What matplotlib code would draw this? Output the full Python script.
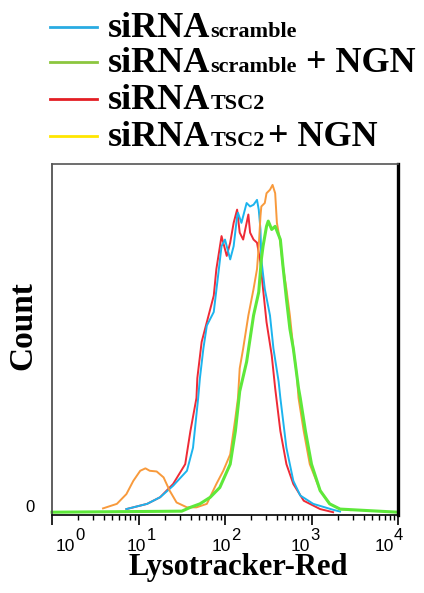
import matplotlib.pyplot as plt
import numpy as np

# histogram outlines: x as log10(intensity), y as count
blue_log = [0.86, 0.94, 1.10, 1.25, 1.40, 1.56, 1.63, 1.69, 1.71, 1.75, 1.79, 1.87, 1.92,
            1.96, 2.00, 2.06, 2.10, 2.14, 2.15, 2.19, 2.23, 2.25, 2.29, 2.33, 2.37, 2.39,
            2.41, 2.42, 2.46, 2.52, 2.56, 2.62, 2.64, 2.71, 2.79, 2.87, 3.02, 3.25, 3.33]
blue_count = [0.9, 1.4, 2.4, 4.3, 7.6, 11.9, 18.5, 32.8, 38.5, 47.0, 53.6, 57.5, 67.9,
              76.4, 78.3, 72.6, 76.4, 85.0, 86.0, 83.1, 86.9, 88.8, 87.8, 88.3, 89.7, 86.9,
              81.2, 72.6, 64.1, 56.5, 47.0, 37.5, 32.8, 18.5, 9.0, 4.8, 2.4, 0.7, 0.2]

red_log = [0.86, 1.10, 1.25, 1.40, 1.54, 1.60, 1.67, 1.68, 1.73, 1.79, 1.87, 1.90, 1.96,
           2.02, 2.06, 2.10, 2.14, 2.17, 2.21, 2.25, 2.27, 2.29, 2.33, 2.37, 2.41, 2.44,
           2.48, 2.54, 2.58, 2.64, 2.71, 2.79, 2.91, 3.10, 3.25]
red_count = [0.9, 2.4, 4.3, 8.1, 13.8, 23.3, 32.8, 38.5, 48.9, 54.6, 62.2, 69.8, 79.3,
             73.6, 77.4, 83.1, 86.9, 80.3, 78.3, 83.1, 85.5, 80.3, 78.3, 77.4, 71.7, 64.1,
             54.6, 45.1, 35.6, 23.3, 13.8, 8.1, 3.3, 0.9, 0.0]

orange_log = [0.59, 0.75, 0.86, 0.94, 1.02, 1.08, 1.13, 1.21, 1.29, 1.36, 1.44, 1.56,
              1.67, 1.79, 1.90, 1.98, 2.06, 2.12, 2.15, 2.17, 2.21, 2.27, 2.33, 2.37,
              2.39, 2.41, 2.42, 2.46, 2.48, 2.52, 2.55, 2.58, 2.60, 2.64, 2.67, 2.71,
              2.75, 2.79, 2.83, 2.85, 2.91, 2.98, 3.10, 3.21, 3.33, 3.45]
orange_count = [1.1, 2.4, 5.2, 9.0, 11.9, 12.6, 11.9, 11.7, 10.0, 6.2, 2.8, 1.4,
                1.4, 2.4, 8.1, 11.9, 16.6, 27.1, 32.8, 41.3, 47.0, 56.5, 64.1, 69.8,
                76.4, 85.0, 87.8, 88.8, 91.6, 92.6, 94.0, 91.6, 83.1, 77.4, 70.7, 64.1,
                56.5, 47.0, 39.4, 32.8, 23.3, 13.8, 6.2, 2.4, 0.9, 0.6]

green_log = [0.0, 1.50, 1.60, 1.71, 1.83, 1.94, 2.06, 2.12, 2.17, 2.25, 2.33, 2.39, 2.42,
             2.44, 2.48, 2.50, 2.54, 2.58, 2.64, 2.67, 2.71, 2.75, 2.79, 2.85, 2.87, 2.93,
             3.00, 3.10, 3.21, 3.33, 4.0]
green_count = [0.0, 0.3, 1.4, 2.4, 4.3, 7.1, 13.8, 23.3, 34.7, 43.2, 56.5, 63.2, 72.6,
               76.4, 82.1, 83.6, 81.2, 82.1, 78.3, 70.7, 61.3, 52.7, 47.0, 35.6, 32.8, 23.3,
               13.8, 6.2, 2.4, 0.9, 0.0]

decades = [0, 1, 2, 3, 4]

legend_rows = [
    ("siRNA", "scramble", ""),
    ("siRNA", "scramble", " + NGN"),
    ("siRNA", "TSC2", ""),
    ("siRNA", "TSC2", "+ NGN"),
]
legend_colors = ["#29abe2", "#8cc63f", "#e31e24", "#ffe600"]

W, H = 424, 593
fig = plt.figure(figsize=(W / 100, H / 100), dpi=100)
ax = fig.add_axes([52 / W, 1 - 515 / H, (398 - 52) / W, (515 - 164) / H])

ax.plot(10 ** np.array(red_log), red_count, color="#ee2a36", lw=1.4)
ax.plot(10 ** np.array(blue_log), blue_count, color="#1cb4ee", lw=1.4)
ax.plot(10 ** np.array(orange_log), orange_count, color="#f89a3c", lw=1.4)
ax.plot(10 ** np.array(green_log), green_count, color="#5ee83a", lw=2.2, clip_on=False)

ax.set_xscale("log")
ax.set_xlim(1, 1e4)
ax.set_ylim(-0.8, 100)
ax.set_yticks([])
ax.tick_params(axis="x", which="major", direction="out", length=7, width=1.2,
               labelbottom=False)
ax.tick_params(axis="x", which="minor", direction="out", length=3.5, width=1.0)

ax.spines["left"].set_color("#444444")
ax.spines["left"].set_linewidth(1.2)
ax.spines["top"].set_color("#555555")
ax.spines["top"].set_linewidth(1.2)
ax.spines["right"].set_color("black")
ax.spines["right"].set_linewidth(2.4)
ax.spines["bottom"].set_linewidth(1.2)

# decade labels: 10 with a raised exponent, slightly shifted like the original
label_shift = [19, 4, 2, -5, -8]
for d, s in zip(decades, label_shift):
    ax.annotate("10", xy=(10 ** d, 0), xycoords=("data", "axes fraction"),
                xytext=(s + 4, -36), textcoords="offset pixels", ha="right",
                va="baseline", family="Liberation Sans", fontsize=12.5)
    ax.annotate(str(d), xy=(10 ** d, 0), xycoords=("data", "axes fraction"),
                xytext=(s + 4, -25), textcoords="offset pixels", ha="left",
                va="baseline", family="Liberation Sans", fontsize=12)

ax.annotate("0", xy=(0, 0), xycoords="axes fraction", xytext=(-17, 7),
            textcoords="offset pixels", ha="right", va="center",
            family="Liberation Sans", fontsize=12)

fig.text(23 / W, 1 - 326 / H, "Count", rotation=90, ha="center", va="center",
         family="Liberation Serif", fontweight="bold", fontsize=24)
fig.text(238 / W, 1 - 567 / H, "Lysotracker-Red", ha="center", va="center",
         family="Liberation Serif", fontweight="bold", fontsize=22)

# legend built by hand: big "siRNA", small subscript-like tag, then "+ NGN"
renderer = fig.canvas.get_renderer()
row_y = [27, 62, 99, 136]
for (main, sub, extra), color, y in zip(legend_rows, legend_colors, row_y):
    fig.add_artist(plt.Line2D([50 / W, 97 / W], [1 - y / H, 1 - y / H],
                              color=color, lw=2.0))
    x = 108
    base = 1 - (y + 10) / H
    for txt, size in [(main, 26), (sub, 16), (extra, 26)]:
        if not txt:
            continue
        if txt == "+ NGN":
            x += 3
        t = fig.text(x / W, base, txt, ha="left", va="baseline",
                     family="Liberation Serif", fontweight="bold", fontsize=size)
        x += t.get_window_extent(renderer).width

fig.savefig("out.png", dpi=100)
plt.close(fig)
